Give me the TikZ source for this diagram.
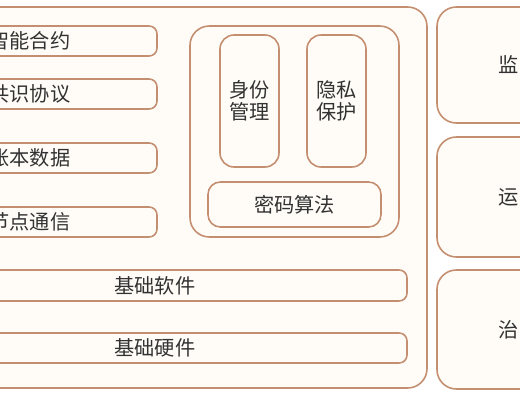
\documentclass[tikz,border=0pt]{standalone}
\usepackage{fontspec}
\newfontfamily\cjk{Noto Sans CJK SC}
\usepackage{tikz}
\definecolor{rim}{RGB}{196,142,112}
\definecolor{paper}{RGB}{255,252,248}
\definecolor{ink}{RGB}{50,50,50}

\begin{document}
\begin{tikzpicture}[x=0.2mm,y=-0.2mm,
  box/.style={draw=rim,fill=paper,line width=0.9pt,rounded corners=4.5pt,inner sep=0pt,
    font=\cjk\fontsize{11.5}{13}\selectfont,text=ink,
    text height=8.6pt,text depth=0pt},
  tall/.style={box,rounded corners=8pt,align=center,text height=21.6pt,
    minimum width=11.8mm,minimum height=26.4mm},
  group/.style={box,rounded corners=11pt},
  side/.style={group,minimum width=28.8mm}]
  \clip (0,0) rectangle (520,400);
  \fill[white] (0,0) rectangle (520,400);
  % platform frame
  \node (platform) [group,minimum width=113.4mm,minimum height=76.2mm] at (143.5,197.5) {};
  % left column
  \node (contract) [box,minimum width=50.8mm,minimum height=6mm] at (30,41) {智能合约};
  \node (consensus) [box,minimum width=50.8mm,minimum height=6mm] at (30,94) {共识协议};
  \node (ledger) [box,minimum width=50.8mm,minimum height=6mm] at (30,158) {账本数据};
  \node (p2p) [box,minimum width=50.8mm,minimum height=6mm] at (30,222) {节点通信};
  % security group
  \node (security) [group,minimum width=41.8mm,minimum height=42.2mm] at (294.5,131.5) {};
  \node (identity) [tall] at (249.5,101) {身份\\管理};
  \node (privacy) [tall] at (336.5,101) {隐私\\保护};
  \node (crypto) [box,rounded corners=7pt,minimum width=34.6mm,minimum height=9mm] at (294.5,204.5) {密码算法};
  % base layers
  \node (software) [box,minimum width=100.8mm,minimum height=6.2mm] at (155,285.5) {基础软件};
  \node (hardware) [box,minimum width=100.8mm,minimum height=6mm] at (155,348) {基础硬件};
  % right column
  \node (supervise) [side,minimum height=23.2mm] at (509,65) {监};
  \node (operate) [side,minimum height=24mm] at (509,197) {运};
  \node (govern) [side,minimum height=23.8mm] at (509,329.5) {治};
\end{tikzpicture}
\end{document}
